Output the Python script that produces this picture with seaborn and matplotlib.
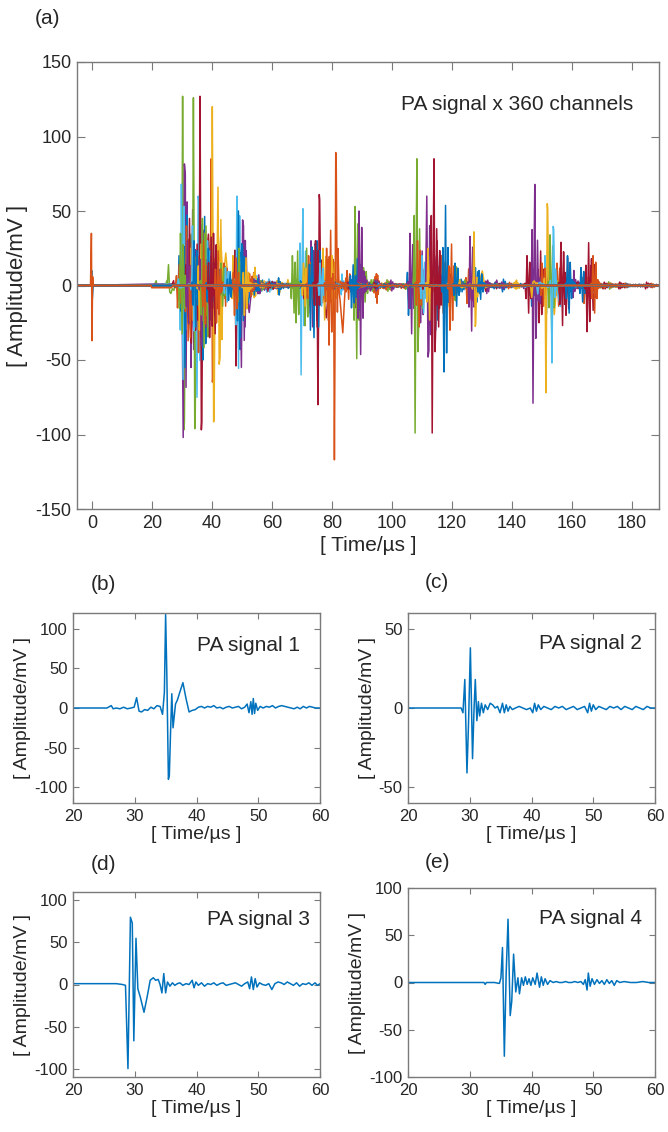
import numpy as np
import pandas as pd
import matplotlib
matplotlib.use("Agg")
import matplotlib.pyplot as plt
import seaborn as sns

# MATLAB default line colour order
MATLAB_COLORS = ["#0072BD", "#D95319", "#EDB120", "#7E2F8E", "#77AC30", "#4DBEEE", "#A2142F"]

# single PA signals, panels (b)-(e)  (time in us, amplitude in mV)
SIG1_T = [20, 22, 24, 25.5, 26.2, 26.5, 27, 27.6, 28.2, 28.8, 29.4, 29.9, 30.3, 30.7, 31.1, 31.6, 32.1,
          32.6, 33.1, 33.6, 34.1, 34.5, 34.8, 35.0, 35.2, 35.45, 35.6, 35.8, 36.0, 36.2, 36.4, 36.6, 36.9,
          37.3, 37.8, 38.3, 38.8, 39.3, 39.8, 40.3, 40.8, 41.3, 41.8, 42.3, 42.8, 43.3, 43.8, 44.3, 44.8,
          45.3, 45.8, 46.3, 46.8, 47.3, 47.8, 48.2, 48.5, 48.8, 49.0, 49.2, 49.4, 49.6, 49.9, 50.3, 50.8,
          51.3, 51.8, 52.3, 52.8, 53.3, 53.8, 54.3, 54.8, 55.3, 55.8, 56.3, 56.8, 57.3, 57.8, 58.3, 58.8,
          59.3, 60]
SIG1_V = [0, 0, 0, 0, 3, -1, 0, -1, 1, -1, 0, 1, 13, -4, -5, -2, -3,
          1, -1, 3, 2, -8, 20, 118, 40, -90, -85, -30, 18, -25, -10, 5, 10,
          20, 32, 12, -5, -3, -2, 1, 2, 0, 2, 1, 3, 0, 1, -1, 1,
          2, 0, 1, 2, -1, 1, 5, -6, 8, -8, 12, -7, 6, -3, 2, 0,
          2, 1, 3, 0, 2, 3, 2, 1, 0, -1, 1, -1, 2, 0, 2, 1,
          0, 0]

SIG2_T = [20, 24, 28, 28.6, 28.9, 29.2, 29.55, 29.8, 30.1, 30.45, 30.7, 30.9, 31.15, 31.4, 31.6, 31.9,
          32.2, 32.5, 32.9, 33.3, 33.7, 34.1, 34.5, 34.9, 35.3, 35.6, 35.9, 36.2, 36.5, 36.9, 37.4, 38,
          38.6, 39.2, 39.8, 40.2, 40.5, 40.8, 41.1, 41.5, 42, 42.6, 43.2, 43.8, 44.4, 45, 45.6, 46.2,
          46.8, 47.4, 48, 48.6, 49.1, 49.4, 49.7, 50, 50.4, 50.9, 51.5, 52.1, 52.7, 53.3, 53.9, 54.5,
          55.1, 55.7, 56.3, 56.9, 57.5, 58.1, 58.7, 59.3, 60]
SIG2_V = [0, 0, 0, 0, -3, 18, -41, -10, 38, -32, 0, 18, -8, 4, -5, 3,
          -3, 2, -1, 3, 2, 0, 1, -3, 3, -3, 2, -2, 1, -1, 0, 1,
          0, -1, 0, -3, 3, -2, 2, -1, 1, 0, -1, 1, 0, 1, -1, 0,
          1, -1, 0, 1, -3, 3, -2, 2, -1, 1, 0, -1, 1, 0, 1, -1,
          1, 0, -1, 1, 0, -1, 1, 0, 0]

SIG3_T = [20, 24, 27, 28, 28.5, 28.9, 29.3, 29.6, 29.85, 30.2, 30.5, 30.9, 31.5, 32.0, 32.5, 33.0,
          33.4, 33.8, 34.1, 34.4, 34.7, 35.0, 35.3, 35.7, 36.1, 36.5, 36.9, 37.3, 37.8, 38.3, 38.8,
          39.3, 39.6, 39.9, 40.3, 40.8, 41.3, 41.8, 42.3, 42.8, 43.3, 43.8, 44.3, 44.8, 45.3, 45.8,
          46.3, 46.8, 47.3, 47.8, 48.3, 48.6, 48.9, 49.2, 49.5, 49.8, 50.2, 50.7, 51.2, 51.7, 52.2,
          52.7, 53.2, 53.7, 54.2, 54.7, 55.2, 55.7, 56.2, 56.7, 57.2, 57.7, 58.2, 58.7, 59.2, 59.6, 60]
SIG3_V = [1, 1, 1, 0, -1, -100, 80, 73, -67, 55, -5, -15, -33, -15, 5, 8,
          5, 6, 0, -10, 13, -10, 3, -2, 2, -1, 1, 2, -1, 1, 0,
          5, -4, 3, -1, 2, -2, 1, 0, 2, -1, 1, 2, -1, 0, 1,
          2, 0, -2, 1, 3, -5, 9, -6, 7, -3, 2, 0, -1, 1, -6,
          1, 3, 2, 0, 3, 1, -1, 2, -2, 1, 0, 2, -1, 2, -1, 1]

SIG4_T = [20, 25, 30, 32.3, 32.5, 32.7, 34, 34.8, 35.05, 35.3, 35.6, 35.9, 36.2, 36.55, 36.8, 37.1,
          37.45, 37.8, 38.05, 38.4, 38.7, 39.0, 39.3, 39.6, 39.9, 40.2, 40.6, 40.9, 41.3, 41.6, 41.9,
          42.2, 42.6, 43.0, 43.5, 44, 44.5, 45, 45.5, 46, 46.5, 47, 47.5, 48, 48.4, 48.7, 49.0, 49.2,
          49.5, 49.8, 50.2, 50.6, 51, 51.4, 51.8, 52.2, 52.6, 53.0, 53.4, 53.8, 54.3, 55, 56, 57, 58,
          59, 60]
SIG4_V = [0, 0, 0, 0, -2, 0, 0, -1, 5, 37, -78, 10, 67, -35, -20, 30,
          -10, 5, -12, 5, -3, 6, -2, 4, -3, 5, -2, 10, -5, 6, -3,
          4, -2, 2, 0, 1, 0, 0, 1, 0, 0, 1, 0, 1, -2, 3, -8, 10,
          -4, 4, -2, 3, -1, 2, -2, 3, -1, 2, -3, 2, 0, 1, 0, 0, 1,
          0, 0]

SIGNALS = [(SIG1_T, SIG1_V), (SIG2_T, SIG2_V), (SIG3_T, SIG3_V), (SIG4_T, SIG4_V)]
SIGNAL_YLIM = [(-120, 120), (-60, 60), (-110, 110), (-100, 100)]
SIGNAL_YTICKS = [[-100, -50, 0, 50, 100], [-50, 0, 50], [-100, -50, 0, 50, 100], [-100, -50, 0, 50, 100]]

# panel (a): channels picked out of the 360 - channel number, arrival time of the main peak (us),
# signed main peak (mV) and which of the four waveforms the burst looks like
CH_ID = [5, 11, 13, 15, 16, 18, 21, 26, 27, 30, 35, 36, 39, 40, 44, 45, 52, 58, 59, 63,
         69, 71, 75, 81, 82, 83, 89, 95, 99, 105, 108, 114, 115, 121, 128, 131, 134, 137, 144, 145,
         149, 153, 158, 164, 168, 169, 170, 176, 179, 185, 190, 196, 200, 205, 206, 208, 209, 210, 211, 218,
         224, 226, 232, 238, 241, 244, 246, 250, 254, 259, 260,
         264, 270, 275, 279, 281, 283, 284, 285, 289, 295, 301, 303, 307, 309, 310, 312, 316, 317, 318, 320,
         325, 331, 337, 343, 349, 352, 358, 12, 7, 1, 4, 14, 2, 8, 3, 6, 9, 22, 29, 28,
         20, 23, 42, 37, 49]
CH_TIME = [30.2, 30.4, 29.8, 31.0, 31.5, 33.0, 32.5, 33.8, 35.0, 35.5, 36.0, 37.0, 37.5, 38.0, 39.7, 40.1,
           42.0, 44.0, 47.0, 48.0, 48.3, 48.8, 49.0, 49.8, 68.0, 69.7, 71.0, 73.0, 74.0, 75.3, 77.0, 79.0,
           80.0, 80.8, 85.0, 87.7, 88.5, 89.0, 106.0, 107.7, 108.5, 110.0, 111.6, 112.0, 113.4, 117.3,
           119.3, 121.0, 126.0, 127.3, 129.0, 145.0, 147.0, 150.0, 151.3, 152.7, 153.3, 156.3, 158.5,
           163.0, 165.0, 167.0, 29.0, 34.5, 33.0, 38.5, 41.0, 43.0, 28.5, 40.5, 75.0,
           29.5, 31.8, 32.8, 33.5, 34.0, 35.8, 36.5, 36.8, 37.2, 38.8, 39.2, 41.5, 44.5, 45.5, 47.5, 50.5,
           49.5, 52.5, 50.8, 66.8, 70.5, 72.2, 72.8, 74.5, 76.0, 78.2, 86.5, 90.5, 88.0, 105.5, 109.5,
           115.0, 116.5, 114.5, 118.5, 115.5, 125.0, 127.8, 146.0, 149.0, 151.0, 155.0, 158.0, 164.0, 166.5]
CH_PEAK = [127, -102, 68, -55, 40, -55, 45, 126, -75, -45, 127, -50, 35, 40, 85, 120, 66, 15, 20, -54,
           60, 50, 25, -55, -25, -60, -27, 30, -35, -80, 25, -40, 20, -117, 10, 53, 18, 50, 35, -99,
           30, 20, 60, 25, -99, -58, -30, 15, 33, 36, 10, 20, -79, 15, -72, 34, -52, 29, 20, 12,
           -31, 20, 20, -30, 25, 30, -20, 15, -15, 35, 30,
           35, 30, -35, 40, 30, -30, -40, 45, 30, 25, -35, -25, 12, -10, -20, 30, -35, 8, -20, 20,
           15, 20, -30, 30, 15, 25, -15, 12, -15, -20, -25, 30, 20, -30, 15, -15, -12, 12, 15, -25,
           20, 15, -20, -12, 18]
CH_SHAPE = [0, 2, 1, 3, 1, 1, 3, 0, 2, 1, 0, 1, 2, 3, 0, 0, 2, 1, 1, 1,
            1, 3, 1, 2, 1, 3, 1, 1, 2, 0, 1, 1, 1, 0, 1, 1, 1, 1, 1, 3,
            1, 1, 2, 1, 3, 1, 1, 1, 1, 0, 1, 1, 3, 1, 0, 1, 0, 1, 1, 1,
            1, 1, 3, 1, 1, 1, 2, 1, 1, 1, 1,
            1, 3, 2, 0, 1, 1, 1, 1, 3, 1, 1, 1, 1, 1, 1, 1, 2, 1, 1, 1,
            1, 1, 3, 1, 1, 1, 1, 1, 1, 1, 1, 1, 1, 1, 1, 1, 1, 1, 1, 1,
            1, 1, 1, 1, 1]

# two channels carrying the laser trigger artefact at t = 0
TRIG_ID = [351, 359]
TRIG_T = [[-5, -0.4, -0.1, 0.1, 0.4, 200],
          [-5, -0.5, -0.2, 0.0, 0.2, 0.5, 19.7, 19.9, 26.5, 27.0, 200]]
TRIG_V = [[0, 0, 10, -9, 0, 0],
          [0, 0, 35, -37, 6, 0, 0, -1.5, -1.5, 0, 0]]

assert len(CH_ID) == len(CH_TIME) == len(CH_PEAK) == len(CH_SHAPE)
assert len(set(CH_ID + TRIG_ID)) == len(CH_ID) + len(TRIG_ID)

TEXT = "#262626"
EDGE = "#7a7a7a"

# build the long table for panel (a)
frames = []
for cid, t0, pk, s in zip(CH_ID, CH_TIME, CH_PEAK, CH_SHAPE):
    st = np.array(SIGNALS[s][0], dtype=float)
    sv = np.array(SIGNALS[s][1], dtype=float)
    k = np.argmax(np.abs(sv))
    tt = np.concatenate([[-5.0], st - st[k] + t0, [200.0]])
    vv = np.concatenate([[0.0], sv * pk / sv[k], [0.0]])
    frames.append(pd.DataFrame({"t": tt, "v": vv, "ch": cid}))
for cid, tt, vv in zip(TRIG_ID, TRIG_T, TRIG_V):
    frames.append(pd.DataFrame({"t": tt, "v": vv, "ch": cid}))
channels = pd.concat(frames, ignore_index=True)
ch_order = sorted(channels["ch"].unique())
ch_palette = {c: MATLAB_COLORS[(c - 1) % 7] for c in ch_order}

sns.set_style("white")
plt.rcParams["font.family"] = ["Liberation Sans", "DejaVu Sans"]
plt.rcParams["axes.unicode_minus"] = False


def style_axes(ax, size, ticklen):
    for sp in ax.spines.values():
        sp.set_color(EDGE)
        sp.set_linewidth(1.0)
    ax.tick_params(direction="in", bottom=True, left=True, top=True, right=True, length=ticklen,
                   width=0.8, color=EDGE, labelsize=size, labelcolor=TEXT, pad=4)


fig = plt.figure(figsize=(6.68, 11.32), dpi=100)
W, H = 668.0, 1132.0


def px_axes(left, top, right, bottom):
    return fig.add_axes([left / W, 1 - bottom / H, (right - left) / W, (bottom - top) / H])


# panel (a)
ax = px_axes(77, 62, 659, 509)
sns.lineplot(data=channels, x="t", y="v", hue="ch", hue_order=ch_order, palette=ch_palette,
             estimator=None, sort=False, legend=False, lw=1.1, ax=ax)
ax.set_xlim(-5, 189)
ax.set_ylim(-150, 150)
ax.set_xticks(range(0, 181, 20))
ax.set_yticks(range(-150, 151, 50))
ax.set_xlabel("[ Time/µs ]", fontsize=15, color=TEXT, labelpad=3)
ax.set_ylabel("[ Amplitude/mV ]", fontsize=16, color=TEXT, labelpad=5)
ax.text(0.955, 0.905, "PA signal x 360 channels", transform=ax.transAxes, ha="right", va="center",
        fontsize=15, color=TEXT)
style_axes(ax, 13, 6)
fig.text(48 / W, 1 - 18 / H, "(a)", ha="center", va="center", fontsize=15, color=TEXT)

# panels (b)-(e)
boxes = [(73, 613, 320, 803), (408, 613, 655, 803), (73, 892, 320, 1077), (408, 888, 655, 1077)]
letters = ["(b)", "(c)", "(d)", "(e)"]
letter_xy = [(103, 585), (437, 583), (103, 864), (437, 863)]
text_xy = [(0.92, 0.83), (0.947, 0.84), (0.96, 0.85), (0.947, 0.836)]

for i, (sig_t, sig_v) in enumerate(SIGNALS):
    ax = px_axes(*boxes[i])
    sns.lineplot(x=np.array(sig_t, dtype=float), y=np.array(sig_v, dtype=float), color=MATLAB_COLORS[0],
                 lw=1.1, estimator=None, sort=False, ax=ax)
    ax.set_xlim(20, 60)
    ax.set_ylim(*SIGNAL_YLIM[i])
    ax.set_xticks(range(20, 61, 10))
    ax.set_yticks(SIGNAL_YTICKS[i])
    ax.set_xlabel("[ Time/µs ]", fontsize=14, color=TEXT, labelpad=2)
    ax.set_ylabel("[ Amplitude/mV ]", fontsize=14, color=TEXT, labelpad=2)
    ax.text(text_xy[i][0], text_xy[i][1], "PA signal %d" % (i + 1), transform=ax.transAxes,
            ha="right", va="center", fontsize=15, color=TEXT)
    style_axes(ax, 12, 4)
    fig.text(letter_xy[i][0] / W, 1 - letter_xy[i][1] / H, letters[i], ha="center", va="center",
             fontsize=15, color=TEXT)

fig.savefig("out.png", dpi=100)
